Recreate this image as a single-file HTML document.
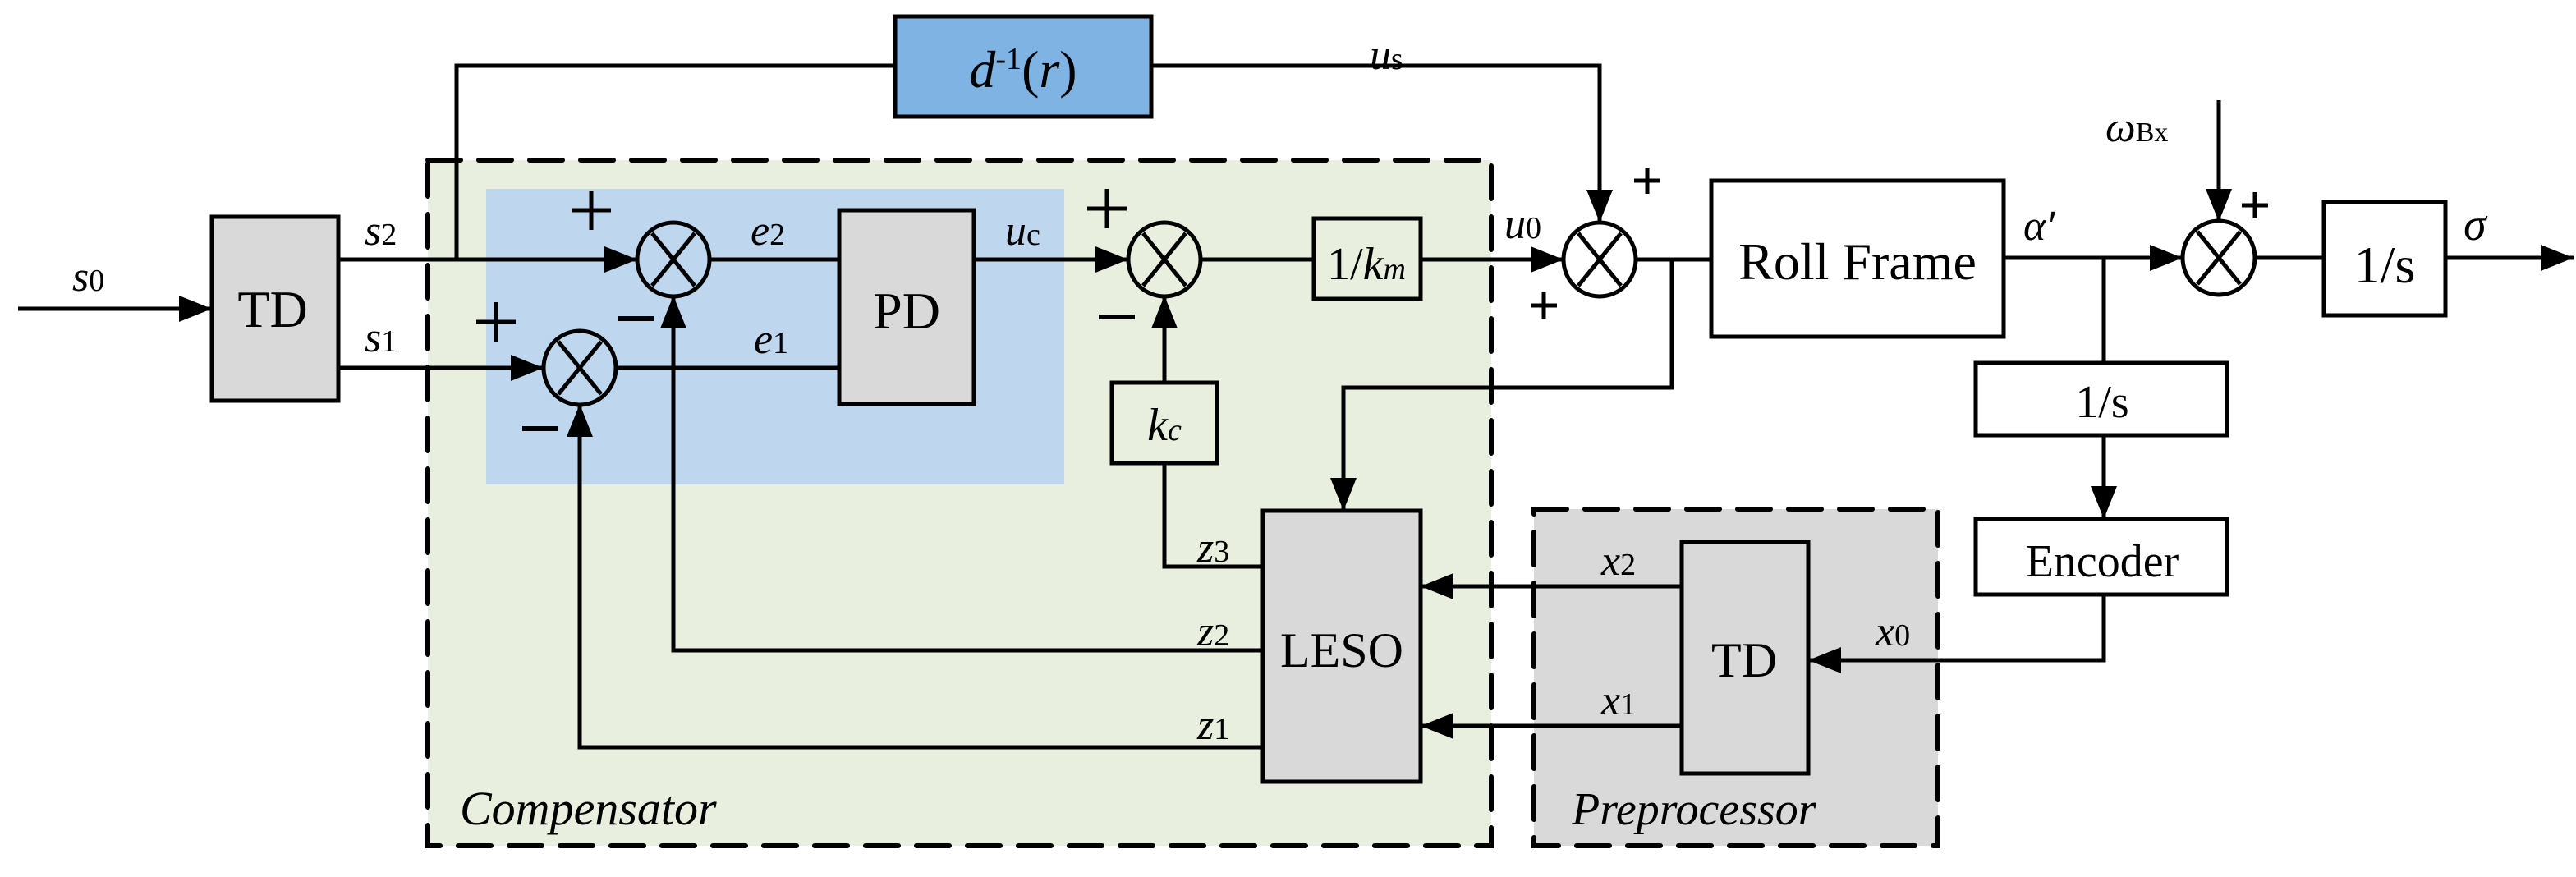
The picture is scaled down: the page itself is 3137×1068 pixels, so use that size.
<!DOCTYPE html>
<html><head><meta charset="utf-8"><style>
html,body{margin:0;padding:0;background:#fff;}
svg{display:block;}
</style></head><body>
<svg width="3137" height="1068" viewBox="0 0 1568.5 534" xmlns="http://www.w3.org/2000/svg" font-family="'Liberation Serif', 'DejaVu Serif', serif">
<defs>
<marker id="a" viewBox="0 0 20 16" refX="20" refY="8" markerWidth="20" markerHeight="16" markerUnits="userSpaceOnUse" orient="auto"><path d="M0,0 L20,8 L0,16 Z" fill="#000"/></marker>
</defs>
<rect x="260.5" y="97.5" width="647.5" height="417.5" fill="#e8efdf" stroke="#000" stroke-width="3" stroke-dasharray="20,11" stroke-linecap="round"/>
<rect x="296" y="115" width="352" height="180" fill="#bfd7ee"/>
<rect x="934" y="310" width="246" height="205" fill="#d9d9d9" stroke="#000" stroke-width="3" stroke-dasharray="20,11" stroke-linecap="round"/>
<g stroke="#000" stroke-width="2.5" fill="none">
<rect x="129" y="132" width="77" height="112" fill="#d9d9d9"/>
<rect x="545" y="10" width="156" height="61" fill="#7eb3e3"/>
<rect x="511" y="128" width="82" height="118" fill="#d9d9d9"/>
<rect x="800" y="133" width="65" height="49"/>
<rect x="1042" y="110" width="178" height="95"/>
<rect x="1415" y="123" width="74" height="69"/>
<rect x="1203" y="221" width="153" height="44"/>
<rect x="1203" y="316" width="153" height="46"/>
<rect x="677" y="233" width="64" height="49"/>
<rect x="769" y="311" width="96" height="165" fill="#d9d9d9"/>
<rect x="1024" y="330" width="77" height="141" fill="#d9d9d9"/>
<line x1="11" y1="188" x2="129" y2="188" marker-end="url(#a)"/>
<line x1="206" y1="158" x2="388" y2="158" marker-end="url(#a)"/>
<line x1="206" y1="224" x2="331" y2="224" marker-end="url(#a)"/>
<polyline points="278,158 278,40 545,40"/>
<polyline points="701,40 974,40 974,135.5" marker-end="url(#a)"/>
<line x1="432" y1="158" x2="511" y2="158"/>
<line x1="375" y1="224" x2="511" y2="224"/>
<line x1="593" y1="158" x2="687" y2="158" marker-end="url(#a)"/>
<line x1="731" y1="158" x2="800" y2="158"/>
<line x1="865" y1="158" x2="952" y2="158" marker-end="url(#a)"/>
<line x1="996" y1="158" x2="1042" y2="158"/>
<polyline points="1018,158 1018,236 818,236 818,311" marker-end="url(#a)"/>
<line x1="1220" y1="157" x2="1329" y2="157" marker-end="url(#a)"/>
<line x1="1373" y1="157" x2="1415" y2="157"/>
<line x1="1489" y1="157" x2="1567" y2="157" marker-end="url(#a)"/>
<line x1="1351" y1="61" x2="1351" y2="135" marker-end="url(#a)"/>
<line x1="1281" y1="157" x2="1281" y2="221"/>
<line x1="1281" y1="265" x2="1281" y2="316" marker-end="url(#a)"/>
<polyline points="1281,362 1281,402 1101,402" marker-end="url(#a)"/>
<line x1="1024" y1="357" x2="865" y2="357" marker-end="url(#a)"/>
<line x1="1024" y1="442" x2="865" y2="442" marker-end="url(#a)"/>
<line x1="709" y1="233" x2="709" y2="180" marker-end="url(#a)"/>
<polyline points="769,345 709,345 709,282"/>
<polyline points="769,396 410,396 410,180" marker-end="url(#a)"/>
<polyline points="769,455 353,455 353,246" marker-end="url(#a)"/>
<ellipse cx="410" cy="158" rx="22" ry="22.5"/>
<ellipse cx="353" cy="224" rx="22" ry="22.5"/>
<ellipse cx="709" cy="158" rx="22" ry="22.5"/>
<ellipse cx="974" cy="158" rx="22" ry="22.5"/>
<ellipse cx="1351" cy="157" rx="22" ry="22.5"/>
<path d="M397,142 L423,174 M423,142 L397,174 M340,208 L366,240 M366,208 L340,240 M696,142 L722,174 M722,142 L696,174 M961,142 L987,174 M987,142 L961,174 M1338,141 L1364,173 M1364,141 L1338,173"/>
<path d="M348,128 h24 M360,116 v24 M290,196 h24 M302,184 v24 M662,127 h24 M674,115 v24 M995,110 h16 M1003,102 v16 M932,186 h16 M940,178 v16 M1365,125 h16 M1373,117 v16" stroke-width="2.5"/>
<path d="M376,194 h22 M318,261 h22 M669,193 h22" stroke-width="3"/>
</g>
<text x="166" y="199" font-size="32" text-anchor="middle">TD</text>
<text x="552" y="200" font-size="32" text-anchor="middle">PD</text>
<text x="817" y="406" font-size="30" text-anchor="middle">LESO</text>
<text x="1062" y="412" font-size="30" text-anchor="middle">TD</text>
<text x="1131" y="170" font-size="32" text-anchor="middle">Roll Frame</text>
<text x="1452" y="172" font-size="32" text-anchor="middle">1/s</text>
<text x="1280" y="254" font-size="28" text-anchor="middle">1/s</text>
<text x="1280" y="351" font-size="28" text-anchor="middle">Encoder</text>
<text x="832" y="170" font-size="28" text-anchor="middle">1/<tspan font-style="italic">k</tspan><tspan font-style="italic" font-size="19">m</tspan></text>
<text x="709" y="268" font-size="28" text-anchor="middle" font-style="italic">k<tspan font-size="19">c</tspan></text>
<text x="623" y="53" font-size="32" text-anchor="middle" font-style="italic">d<tspan font-size="19" dy="-11" font-style="normal">-1</tspan><tspan dy="11" font-style="normal">(</tspan>r<tspan font-style="normal">)</tspan></text>
<g font-size="26" font-style="italic">
<text x="44" y="177">s<tspan font-size="19" font-style="normal">0</tspan></text>
<text x="222" y="149">s<tspan font-size="19" font-style="normal">2</tspan></text>
<text x="222" y="214">s<tspan font-size="19" font-style="normal">1</tspan></text>
<text x="457" y="149">e<tspan font-size="19" font-style="normal">2</tspan></text>
<text x="459" y="215">e<tspan font-size="19" font-style="normal">1</tspan></text>
<text x="612" y="149">u<tspan font-size="19" font-style="normal">c</tspan></text>
<text x="834" y="42">u<tspan font-size="19" font-style="normal">s</tspan></text>
<text x="916" y="145">u<tspan font-size="19" font-style="normal">0</tspan></text>
<text x="1232" y="146">α′</text>
<text x="1500" y="146" font-size="28">σ</text>
<text x="1282" y="86">ω<tspan font-size="17" font-style="normal">Bx</tspan></text>
<text x="729" y="342">z<tspan font-size="19" font-style="normal">3</tspan></text>
<text x="729" y="393">z<tspan font-size="19" font-style="normal">2</tspan></text>
<text x="729" y="450">z<tspan font-size="19" font-style="normal">1</tspan></text>
<text x="975" y="350">x<tspan font-size="19" font-style="normal">2</tspan></text>
<text x="975" y="435">x<tspan font-size="19" font-style="normal">1</tspan></text>
<text x="1142" y="393">x<tspan font-size="19" font-style="normal">0</tspan></text>
</g>
<text x="280" y="502" font-size="29" font-style="italic">Compensator</text>
<text x="957" y="502" font-size="28" font-style="italic">Preprocessor</text>
</svg>
</body></html>
